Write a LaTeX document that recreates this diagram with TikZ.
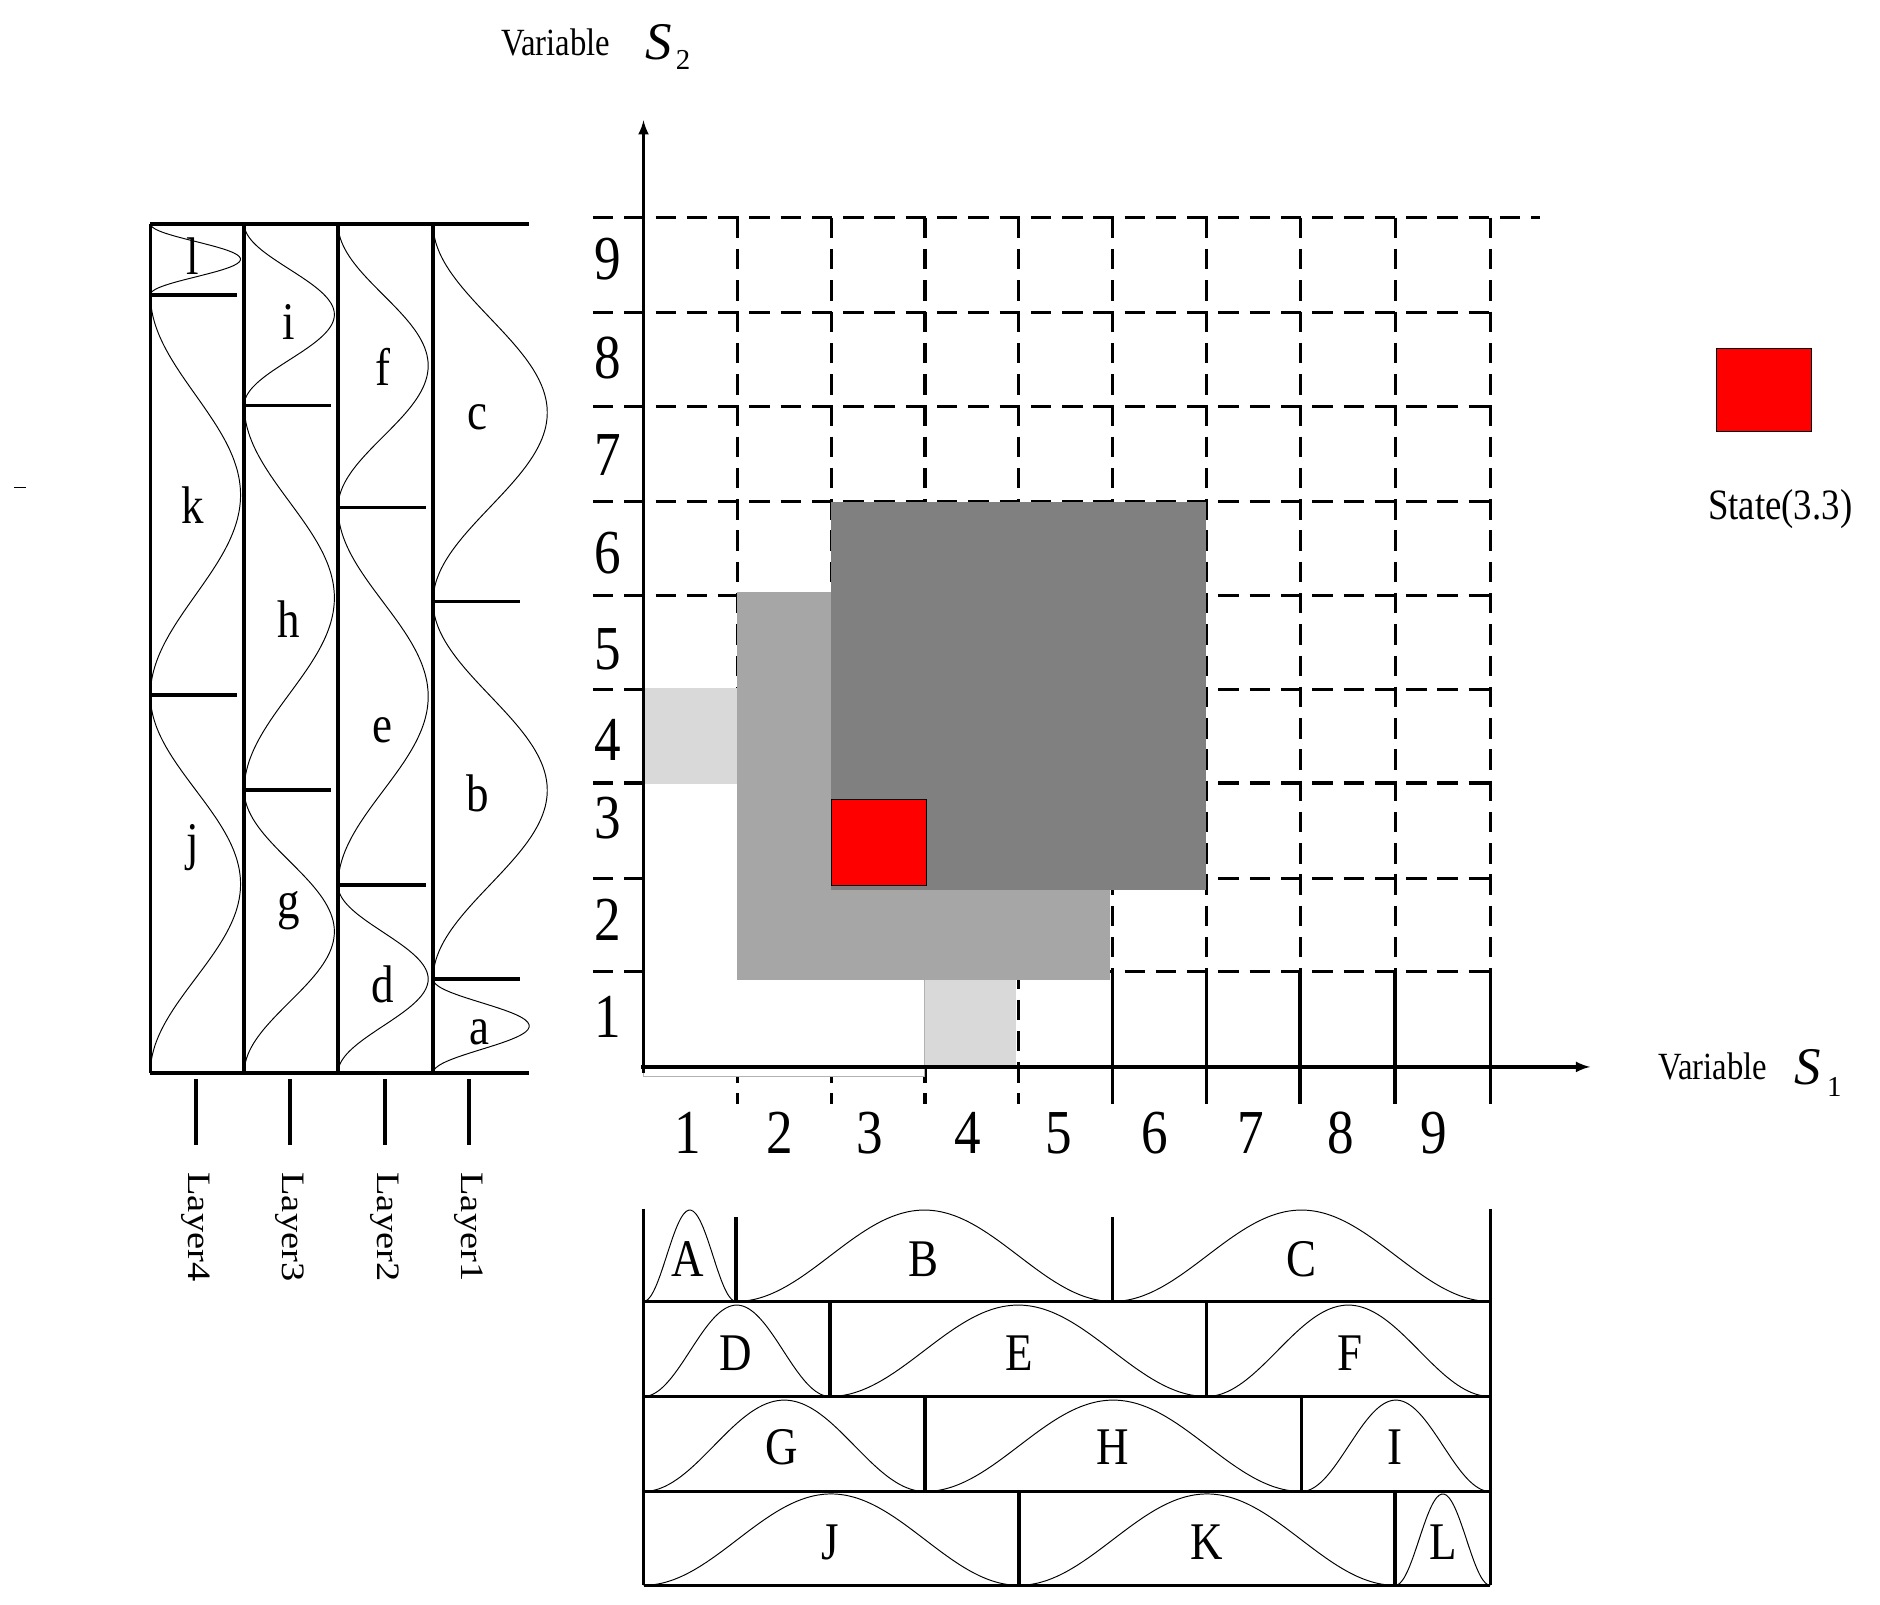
\documentclass[tikz,border=0pt]{standalone}
\usepackage{fontspec}
\setmainfont{Liberation Serif}
\begin{document}
\begin{tikzpicture}[x=1pt,y=-1pt,
 thick/.style={line width=3pt},
 dsh/.style={line width=2.6pt,dash pattern=on 17pt off 9pt},
 num/.style={font=\fontsize{52}{52}\selectfont,xscale=0.85},
 let/.style={font=\fontsize{44}{44}\selectfont,xscale=0.85},
 lay/.style={font=\fontsize{32}{32}\selectfont,xscale=0.85},
 mf/.style={line width=0.8pt}]
\useasboundingbox (0,0) rectangle (1563,1334);
% grid
\foreach \yy in {260,338,417,495,573,651,730,808} \draw[dsh] (493,\yy) -- (1240,\yy);
\draw[dsh] (493,181) -- (1280,181);
\foreach \xx in {613,691,769,847} \draw[dsh] (\xx,181) -- (\xx,918);
\foreach \xx in {925,1003,1081,1160,1239} {\draw[dsh] (\xx,181) -- (\xx,808); \draw[thick] (\xx,808) -- (\xx,918);}
% shaded regions
\draw[gray!60,fill=white,line width=0.8pt] (535,650) rectangle (769,895);
\fill[gray!30] (535,572) rectangle (613,652);
\fill[gray!30] (769,815) rectangle (845,888);
\fill[gray!70] (613,492) rectangle (923,815);
\fill[gray!100] (691,417) rectangle (1003,740);
\draw[black,fill=red,line width=0.8pt] (691,665) rectangle (770,736);
\draw[black,fill=red,line width=0.8pt] (1427,290) rectangle (1506,359);
\node[lay,font=\fontsize{36}{36}\selectfont] (st) at (1480,423) {State(3.3)};
% axes
\coordinate (ytop) at (535,100);
\coordinate (xr) at (1322,887);
\draw[thick,-latex] (535,892) -- (ytop);
\draw[thick,-latex] (533,887) -- (xr);
\node[lay] (v2) at (462,35) {Variable};
\node[font=\fontsize{44}{44}\selectfont\itshape] (s2) at (548,35) {S};
\node[font=\fontsize{24}{24}\selectfont] (s2i) at (568,50) {2};
\node[lay] (v1) at (1424,887) {Variable};
\node[font=\fontsize{44}{44}\selectfont\itshape] (s1) at (1503,887) {S};
\node[font=\fontsize{24}{24}\selectfont] (s1i) at (1525,904) {1};
\foreach \t/\yy in {9/215,8/298,7/378,6/460,5/540,4/615,3/680,2/765,1/845} \node[num] (yl\t) at (505,\yy) {\t};
\foreach \t/\xx in {1/572,2/648,3/723,4/805,5/880,6/960,7/1040,8/1115,9/1192} \node[num] (xl\t) at (\xx,942) {\t};
% left panel
\foreach \xx in {125,203,281,360} \draw[thick] (\xx,186) -- (\xx,892);
\draw[thick] (125,186) -- (440,186);
\draw[thick] (125,892) -- (440,892);
\foreach \xx/\n in {163/4,241/3,320/2,390/1} {\draw[thick] (\xx,897) -- (\xx,952); \node[lay,rotate=-90] (L\n) at (\xx,1020) {Layer\n};}
\foreach \yy in {245,578} \draw[thick] (125,\yy) -- (197,\yy);
\foreach \yy in {337,657} \draw[thick] (203,\yy) -- (275,\yy);
\foreach \yy in {422,736} \draw[thick] (281,\yy) -- (354,\yy);
\foreach \yy in {500,814} \draw[thick] (360,\yy) -- (432,\yy);
\foreach \xo/\w/\ya/\yb in {125/75/186/245,125/75/245/578,125/75/578/892,203/75/186/337,203/75/337/657,203/75/657/892,281/75/186/422,281/75/422/736,281/75/736/892,360/95/186/500,360/95/500/814,360/80/814/892}
  \draw[mf] plot[domain=0:1,samples=40,smooth] ({\xo+\w*0.5*(1-cos(360*\x))},{\ya+(\yb-\ya)*\x});
\foreach \t/\xx/\yy in {l/160/213,k/160/420,j/160/705,i/240/268,h/240/515,g/240/757,f/318/305,e/318/607,d/318/818,c/397/347,b/397/660,a/399/858}
  \node[let] (m\t) at (\xx,\yy) {\t};
\draw[line width=1pt] (12,405) -- (22,405);
% bottom panel
\draw[thick] (535,1005) -- (535,1318);
\draw[thick] (1239,1005) -- (1239,1318);
\foreach \yy in {1082,1161,1240,1318} \draw[thick] (535,\yy) -- (1239,\yy);
\foreach \xx in {612,925} \draw[thick] (\xx,1012) -- (\xx,1082);
\foreach \xx in {690,1003} \draw[thick] (\xx,1082) -- (\xx,1161);
\foreach \xx in {769,1082} \draw[thick] (\xx,1161) -- (\xx,1240);
\foreach \xx in {847,1160} \draw[thick] (\xx,1240) -- (\xx,1318);
\foreach \yy/\xa/\xb in {1082/535/612,1082/612/925,1082/925/1239,1161/535/690,1161/690/1003,1161/1003/1239,1240/535/769,1240/769/1082,1240/1082/1239,1318/535/847,1318/847/1160,1318/1160/1239}
  \draw[mf] plot[domain=0:1,samples=40,smooth] ({\xa+(\xb-\xa)*\x},{\yy-76*0.5*(1-cos(360*\x))});
\foreach \t/\xx/\yy in {A/572/1047,B/768/1047,C/1082/1047,D/612/1125,E/847/1125,F/1122/1125,G/650/1203,H/925/1203,I/1160/1203,J/690/1282,K/1003/1282,L/1200/1282}
  \node[let] (M\t) at (\xx,\yy) {\t};
\end{tikzpicture}
\end{document}
